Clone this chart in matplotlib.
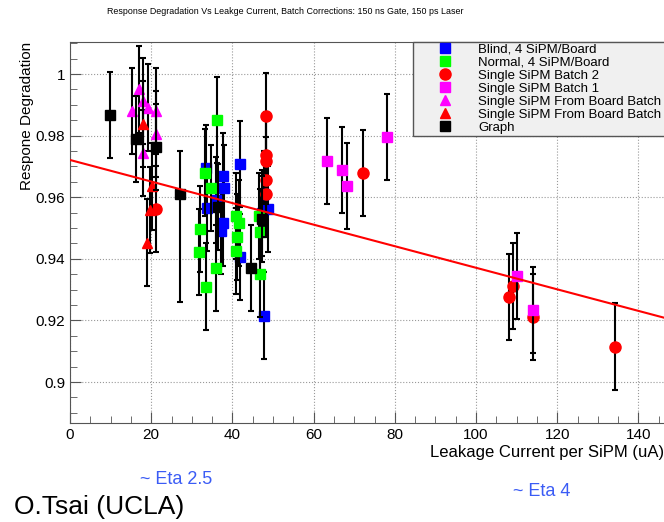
import numpy as np
import matplotlib
matplotlib.use("Agg")
import matplotlib.pyplot as plt
from matplotlib.lines import Line2D
from matplotlib.ticker import MultipleLocator

plt.rcParams['font.family'] = ['Liberation Sans', 'DejaVu Sans']

# data
blind_x = [33.4, 37.6, 37.9, 41.9, 33.7, 36.0, 47.8, 48.8, 37.7, 37.2, 41.9, 47.8, 47.3]
blind_y = [0.9694, 0.9669, 0.963, 0.9708, 0.9566, 0.9592, 0.961, 0.9562, 0.9517, 0.949, 0.9407, 0.9216, 0.955]

normal_x = [36.2, 33.3, 34.7, 32.1, 31.8, 33.4, 36.0, 40.9, 41.6, 41.1, 40.9, 46.6, 46.8, 46.8]
normal_y = [0.985, 0.968, 0.963, 0.9498, 0.9423, 0.931, 0.9371, 0.954, 0.9517, 0.9472, 0.9426, 0.954, 0.9488, 0.9352]

batch2_x = [48.3, 48.3, 48.3, 48.3, 48.3, 21.2, 72.2, 108.1, 109.1, 114.0, 134.2]
batch2_y = [0.9864, 0.9737, 0.9718, 0.9656, 0.961, 0.9562, 0.9679, 0.9277, 0.9313, 0.9212, 0.9115]

batch1_x = [63.3, 67.0, 68.2, 78.0, 110.1, 114.0]
batch1_y = [0.9718, 0.9689, 0.9637, 0.9796, 0.9345, 0.9235]

board_m_x = [15.2, 16.9, 18.1, 19.1, 21.2, 21.2, 18.1]
board_m_y = [0.9881, 0.995, 0.9913, 0.9891, 0.9881, 0.9805, 0.9743]

board_r_x = [18.1, 20.3, 19.7, 19.0]
board_r_y = [0.9838, 0.9635, 0.9559, 0.9453]

graph_x = [9.85, 16.3, 21.2, 27.1, 36.5, 44.6, 47.3]
graph_y = [0.9867, 0.9788, 0.9762, 0.961, 0.9569, 0.9371, 0.953]
graph_err_lo = [0.014, 0.014, 0.014, 0.035, 0.014, 0.014, 0.014]
graph_err_hi = [0.014, 0.014, 0.014, 0.014, 0.014, 0.014, 0.014]

err = 0.014

fit_b = 0.9721
fit_m = -0.00035

labels = ["Blind, 4 SiPM/Board", "Normal, 4 SiPM/Board", "Single SiPM Batch 2",
          "Single SiPM Batch 1", "Single SiPM From Board Batch", "Single SiPM From Board Batch",
          "Graph"]

series = [
    (blind_x, blind_y, err, 's', '#0000ff', 7),
    (normal_x, normal_y, err, 's', '#00ff00', 7),
    (batch2_x, batch2_y, err, 'o', '#ff0000', 8),
    (batch1_x, batch1_y, err, 's', '#ff00ff', 7),
    (board_m_x, board_m_y, err, '^', '#ff00ff', 6.5),
    (board_r_x, board_r_y, err, '^', '#ff0000', 6.5),
    (graph_x, graph_y, [graph_err_lo, graph_err_hi], 's', 'black', 7),
]

fig = plt.figure(figsize=(6.64, 5.22), dpi=100)
ax = fig.add_axes([70/664, 99/522, 594/664, 381/522])

xmax = 146.3
for i, (x, y, e, m, c, ms) in enumerate(series):
    ax.errorbar(x, y, yerr=e, fmt=m, color=c, ms=ms, ecolor='black', elinewidth=1.5,
                capsize=2, capthick=1.5, zorder=3 + i)

xf = np.array([0, xmax])
ax.plot(xf, fit_b + fit_m * xf, color='red', lw=1.5, zorder=20)

ax.set_xlim(0, xmax)
ax.set_ylim(0.8867, 1.0104)
ax.xaxis.set_major_locator(MultipleLocator(20))
ax.xaxis.set_minor_locator(MultipleLocator(5))
ax.yaxis.set_minor_locator(MultipleLocator(0.005))
ax.set_yticks([0.9, 0.92, 0.94, 0.96, 0.98, 1.0])
ax.set_yticklabels(["0.9", "0.92", "0.94", "0.96", "0.98", "1"])
ax.tick_params(which='both', direction='in', top=False, right=False, labelsize=11, color='#555555')
ax.tick_params(which='major', length=8)
ax.tick_params(which='minor', length=5)
ax.grid(True, which='major', ls=':', color='#999999', lw=0.8)
for s in ['left', 'bottom', 'top']:
    ax.spines[s].set_color('#555555')
ax.spines['right'].set_visible(False)

ax.set_xlabel("Leakage Current per SiPM (uA)", fontsize=12, loc='right', labelpad=2)
ax.set_ylabel("Respone Degradation", fontsize=11, loc='top')
ax.yaxis.set_label_coords(-36/594, 1.0)

handles = [Line2D([], [], ls='none', marker=m, color=c, ms=ms) for (_, _, _, m, c, ms) in series]
leg = ax.legend(handles, labels, loc='upper left', bbox_to_anchor=(343/594, 0, 0.45, 1.0),
                mode='expand', fontsize=9.5, labelspacing=0.06, handlelength=4.6,
                handletextpad=0.2, borderpad=0.12, borderaxespad=0, fancybox=False,
                framealpha=1, facecolor='#f0f0f0', edgecolor='#555555')
leg.set_zorder(30)

fig.text(285/664, 1 - 12/522, "Response Degradation Vs Leakge Current, Batch Corrections: 150 ns Gate, 150 ps Laser",
         ha='center', va='center', fontsize=6.4)
fig.text(140/664, 1 - 479/522, "~ Eta 2.5", color='#3b5cf5', fontsize=13, va='center')
fig.text(513/664, 1 - 491/522, "~ Eta 4", color='#3b5cf5', fontsize=13, va='center')
fig.text(14/664, 1 - 507/522, "O.Tsai (UCLA)", fontsize=19, va='center')

fig.savefig("out.png", dpi=100)
